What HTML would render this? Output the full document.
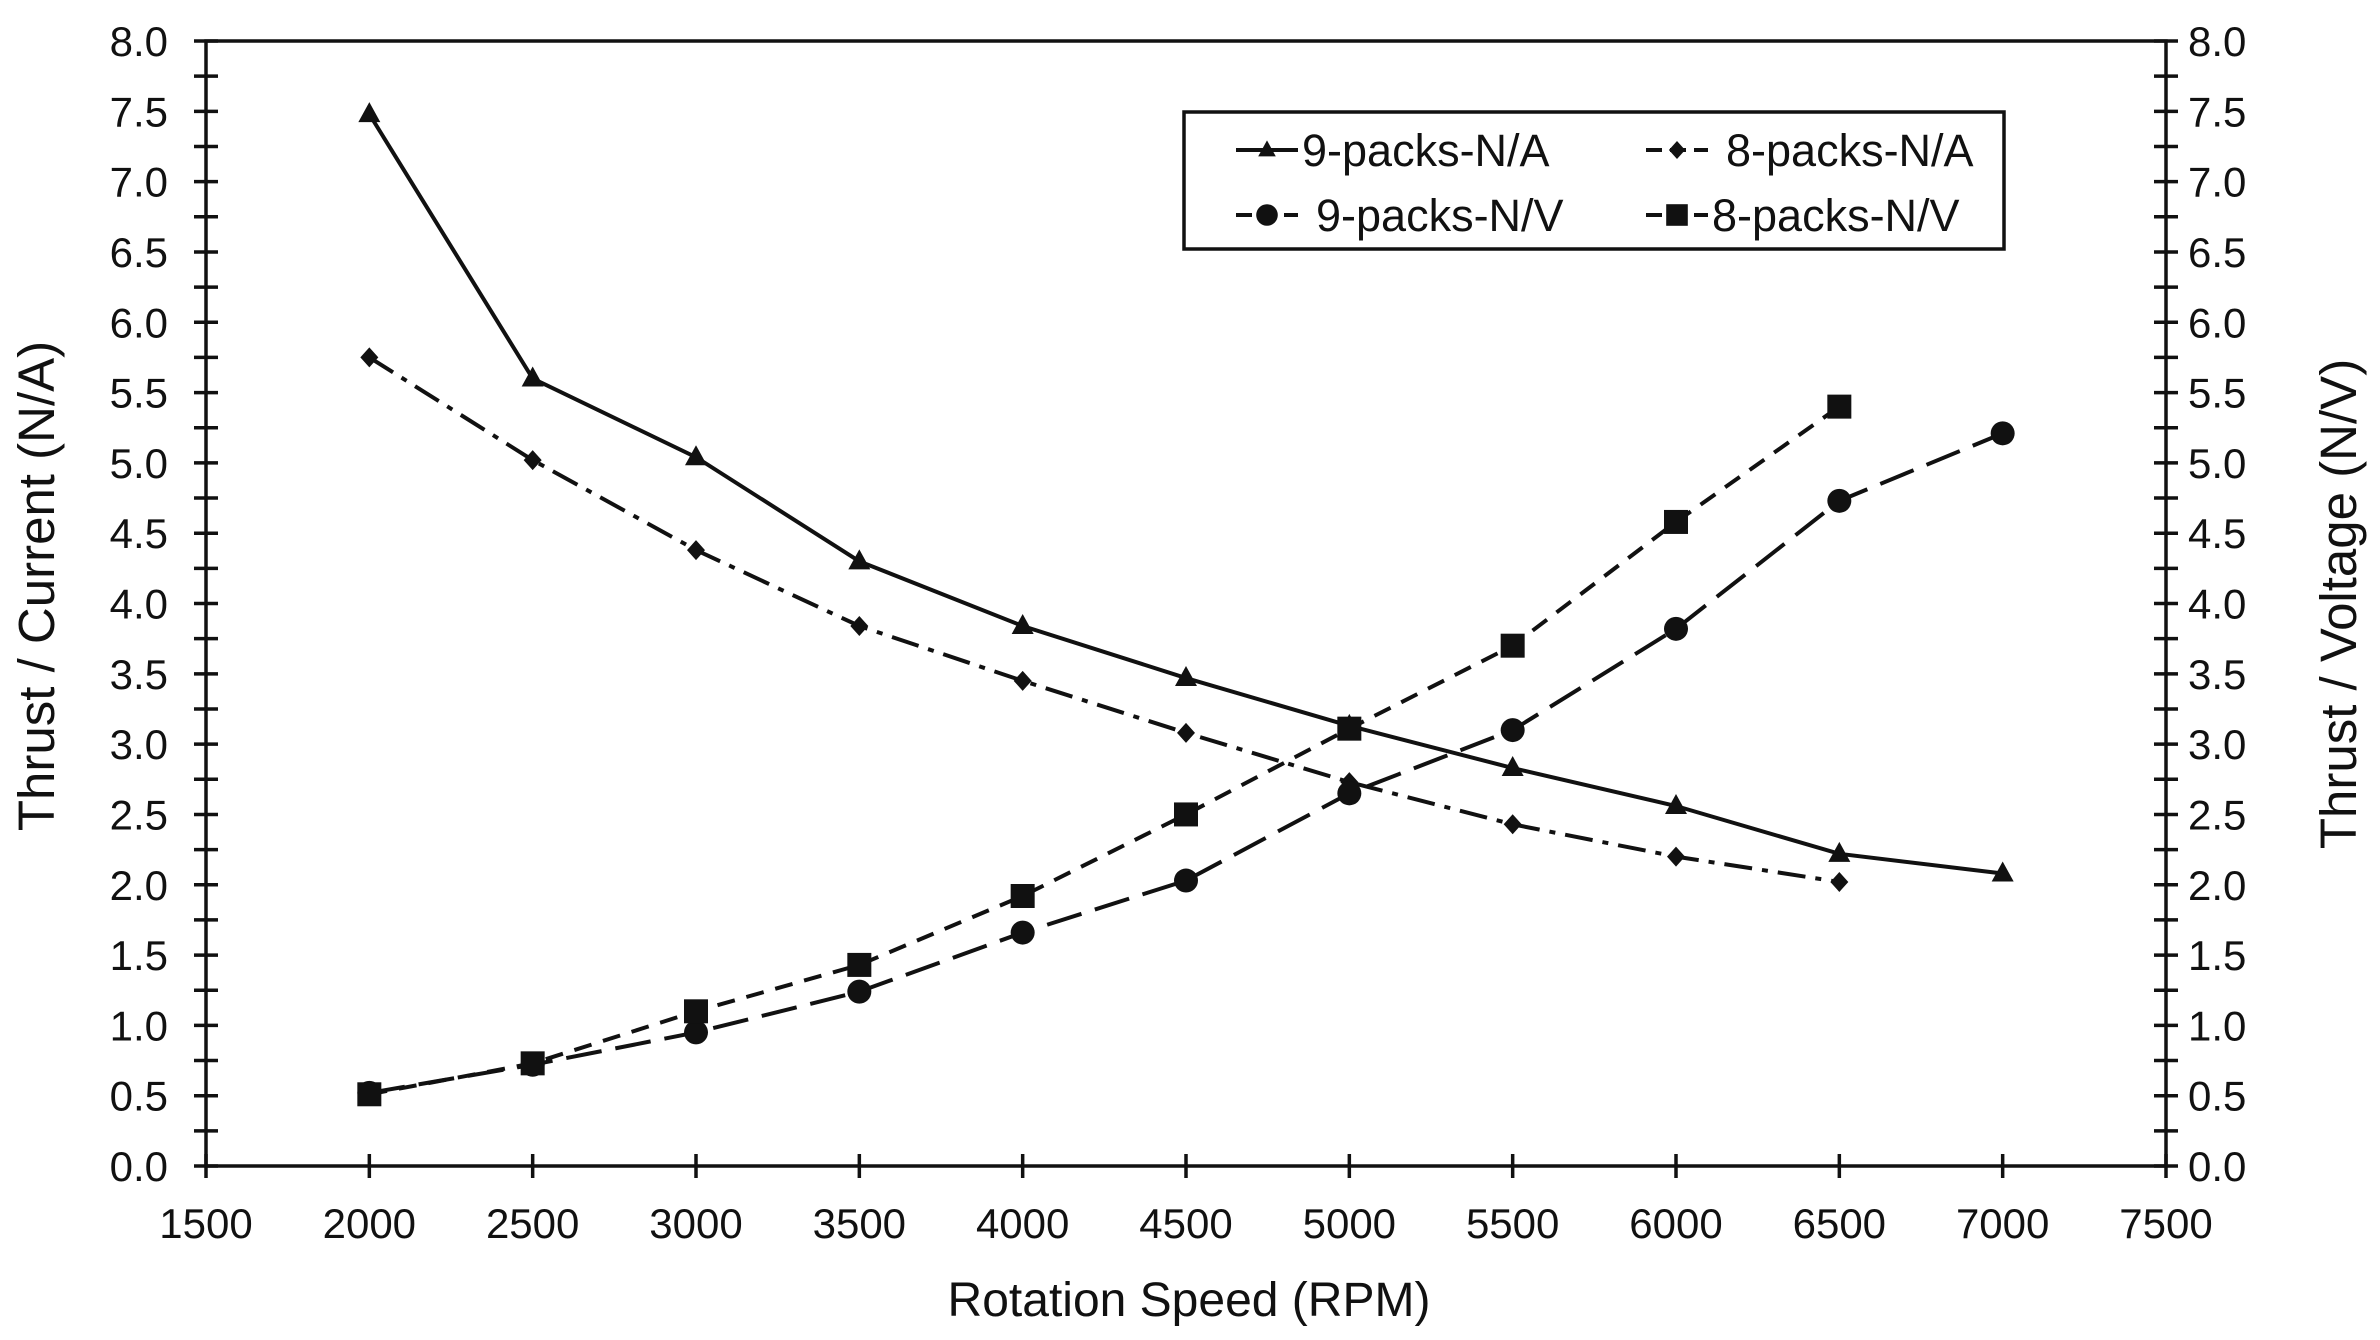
<!DOCTYPE html>
<html><head><meta charset="utf-8"><style>
html,body{margin:0;padding:0;background:#fff;}
svg{display:block;font-family:"Liberation Sans",Arial,sans-serif;}
</style></head><body>
<svg id="chart" width="2380" height="1340" viewBox="0 0 2380 1340" xmlns="http://www.w3.org/2000/svg">
<g id="axes"></g>
<g id="series"></g>
<g id="legend"></g>
<text x="1189" y="1316" font-size="48" text-anchor="middle" fill="#111">Rotation Speed (RPM)</text>
<text transform="translate(54,586) rotate(-90)" font-size="51" text-anchor="middle" fill="#111">Thrust / Current (N/A)</text>
<text transform="translate(2356,604) rotate(-90)" font-size="51" text-anchor="middle" fill="#111">Thrust / Voltage (N/V)</text>
</svg>
<script>
const rpm = [2000,2500,3000,3500,4000,4500,5000,5500,6000,6500,7000];
const nine_NA = [7.48,5.6,5.04,4.3,3.84,3.47,3.13,2.83,2.56,2.22,2.08];
const eight_NA = [5.75,5.02,4.38,3.84,3.45,3.08,2.73,2.43,2.2,2.02];
const nine_NV = [0.52,0.72,0.95,1.24,1.66,2.03,2.65,3.1,3.82,4.73,5.21];
const eight_NV = [0.51,0.73,1.1,1.43,1.92,2.5,3.11,3.7,4.58,5.4];
const xTicks = [1500,2000,2500,3000,3500,4000,4500,5000,5500,6000,6500,7000,7500];
const yTicks = ["0.0","0.5","1.0","1.5","2.0","2.5","3.0","3.5","4.0","4.5","5.0","5.5","6.0","6.5","7.0","7.5","8.0"];

const L=206,R=2166,T=41,B=1166;
const xs=v=>L+(v-1500)/6000*(R-L);
const ys=v=>B-v/8*(B-T);
const NS="http://www.w3.org/2000/svg";
function mk(tag,attrs,parent){const e=document.createElementNS(NS,tag);for(const k in attrs)e.setAttribute(k,attrs[k]);parent.appendChild(e);return e;}
const ax=document.getElementById('axes');
let e;
e=mk('rect',{x:L,y:T,width:R-L,height:B-T,fill:'none',stroke:'#111','stroke-width':3.5},ax);


xTicks.forEach(t=>{
  const x=xs(t);
  e=mk('line',{x1:x,x2:x,y1:B-12,y2:B+12,stroke:'#111','stroke-width':3.5},ax);
  
  
  e=mk('text',{x:x,y:1238,'font-size':42,'text-anchor':'middle',fill:'#111'},ax);
  e.textContent=t;
  
  
});
for(let i=0;i<=32;i++){
  const y=ys(i*0.25);
  [L,R].forEach(x=>{
    e=mk('line',{x1:x-12,x2:x+12,y1:y,y2:y,stroke:'#111','stroke-width':3.5},ax);
    
    
  });
}
yTicks.forEach(t=>{
  const y=ys(parseFloat(t));
  e=mk('text',{x:168,y:y+15,'font-size':42,'text-anchor':'end',fill:'#111'},ax);
  e.textContent=t;
  
  
  e=mk('text',{x:2188,y:y+15,'font-size':42,'text-anchor':'start',fill:'#111'},ax);
  e.textContent=t;
  
  
});

function marker(type,x,y,parent,s){
  s=s||1;
  if(type==='tri') return mk('polygon',{points:`${x},${y-12*s} ${x-11*s},${y+8*s} ${x+11*s},${y+8*s}`,fill:'#111'},parent);
  if(type==='dia') return mk('polygon',{points:`${x},${y-10*s} ${x+9*s},${y} ${x},${y+10*s} ${x-9*s},${y}`,fill:'#111'},parent);
  if(type==='cir') return mk('circle',{cx:x,cy:y,r:12*s,fill:'#111'},parent);
  return mk('rect',{x:x-12*s,y:y-12*s,width:24*s,height:24*s,fill:'#111'},parent);
}
const defs=[
 {name:'9-packs-na',vals:nine_NA,dash:'',m:'tri'},
 {name:'8-packs-na',vals:eight_NA,dash:'28,10,6,10',m:'dia'},
 {name:'9-packs-nv',vals:nine_NV,dash:'36,14',m:'cir'},
 {name:'8-packs-nv',vals:eight_NV,dash:'18,12',m:'sq'}
];
const sg=document.getElementById('series');
defs.forEach(d=>{
  const g=mk('g',{},sg);
  
  
  const pts=d.vals.map((v,i)=>xs(rpm[i])+','+ys(v)).join(' ');
  const a={points:pts,fill:'none',stroke:'#111','stroke-width':4};
  if(d.dash)a['stroke-dasharray']=d.dash;
  e=mk('polyline',a,g);
  
  
  d.vals.forEach((v,i)=>{
    e=marker(d.m,xs(rpm[i]),ys(v),g);
    
    
  });
});
const lg=document.getElementById('legend');
e=mk('rect',{x:1184,y:112,width:820,height:137,fill:'#fff',stroke:'#111','stroke-width':3.5},lg);


const items=[
 {label:'9-packs-N/A',x:1236,y:150,d:defs[0]},
 {label:'8-packs-N/A',x:1646,y:150,d:defs[1]},
 {label:'9-packs-N/V',x:1236,y:215,d:defs[2]},
 {label:'8-packs-N/V',x:1646,y:215,d:defs[3]}
];
items.forEach(it=>{
  const g=mk('g',{},lg);
  
  
  mk('line',{x1:it.x,x2:it.x+62,y1:it.y,y2:it.y,stroke:'#111','stroke-width':4,'stroke-dasharray':it.d.dash?'16,8':''},g);
  marker(it.d.m,it.x+31,it.y,g,it.d.m==='tri'?0.8:0.9);
  e=mk('text',{x:it.x+66+(it.d.m==='tri'||it.d.m==='sq'?0:14),y:it.y+16,'font-size':45,fill:'#111'},g);
  e.textContent=it.label;
  
  
});
</script>
</body></html>
